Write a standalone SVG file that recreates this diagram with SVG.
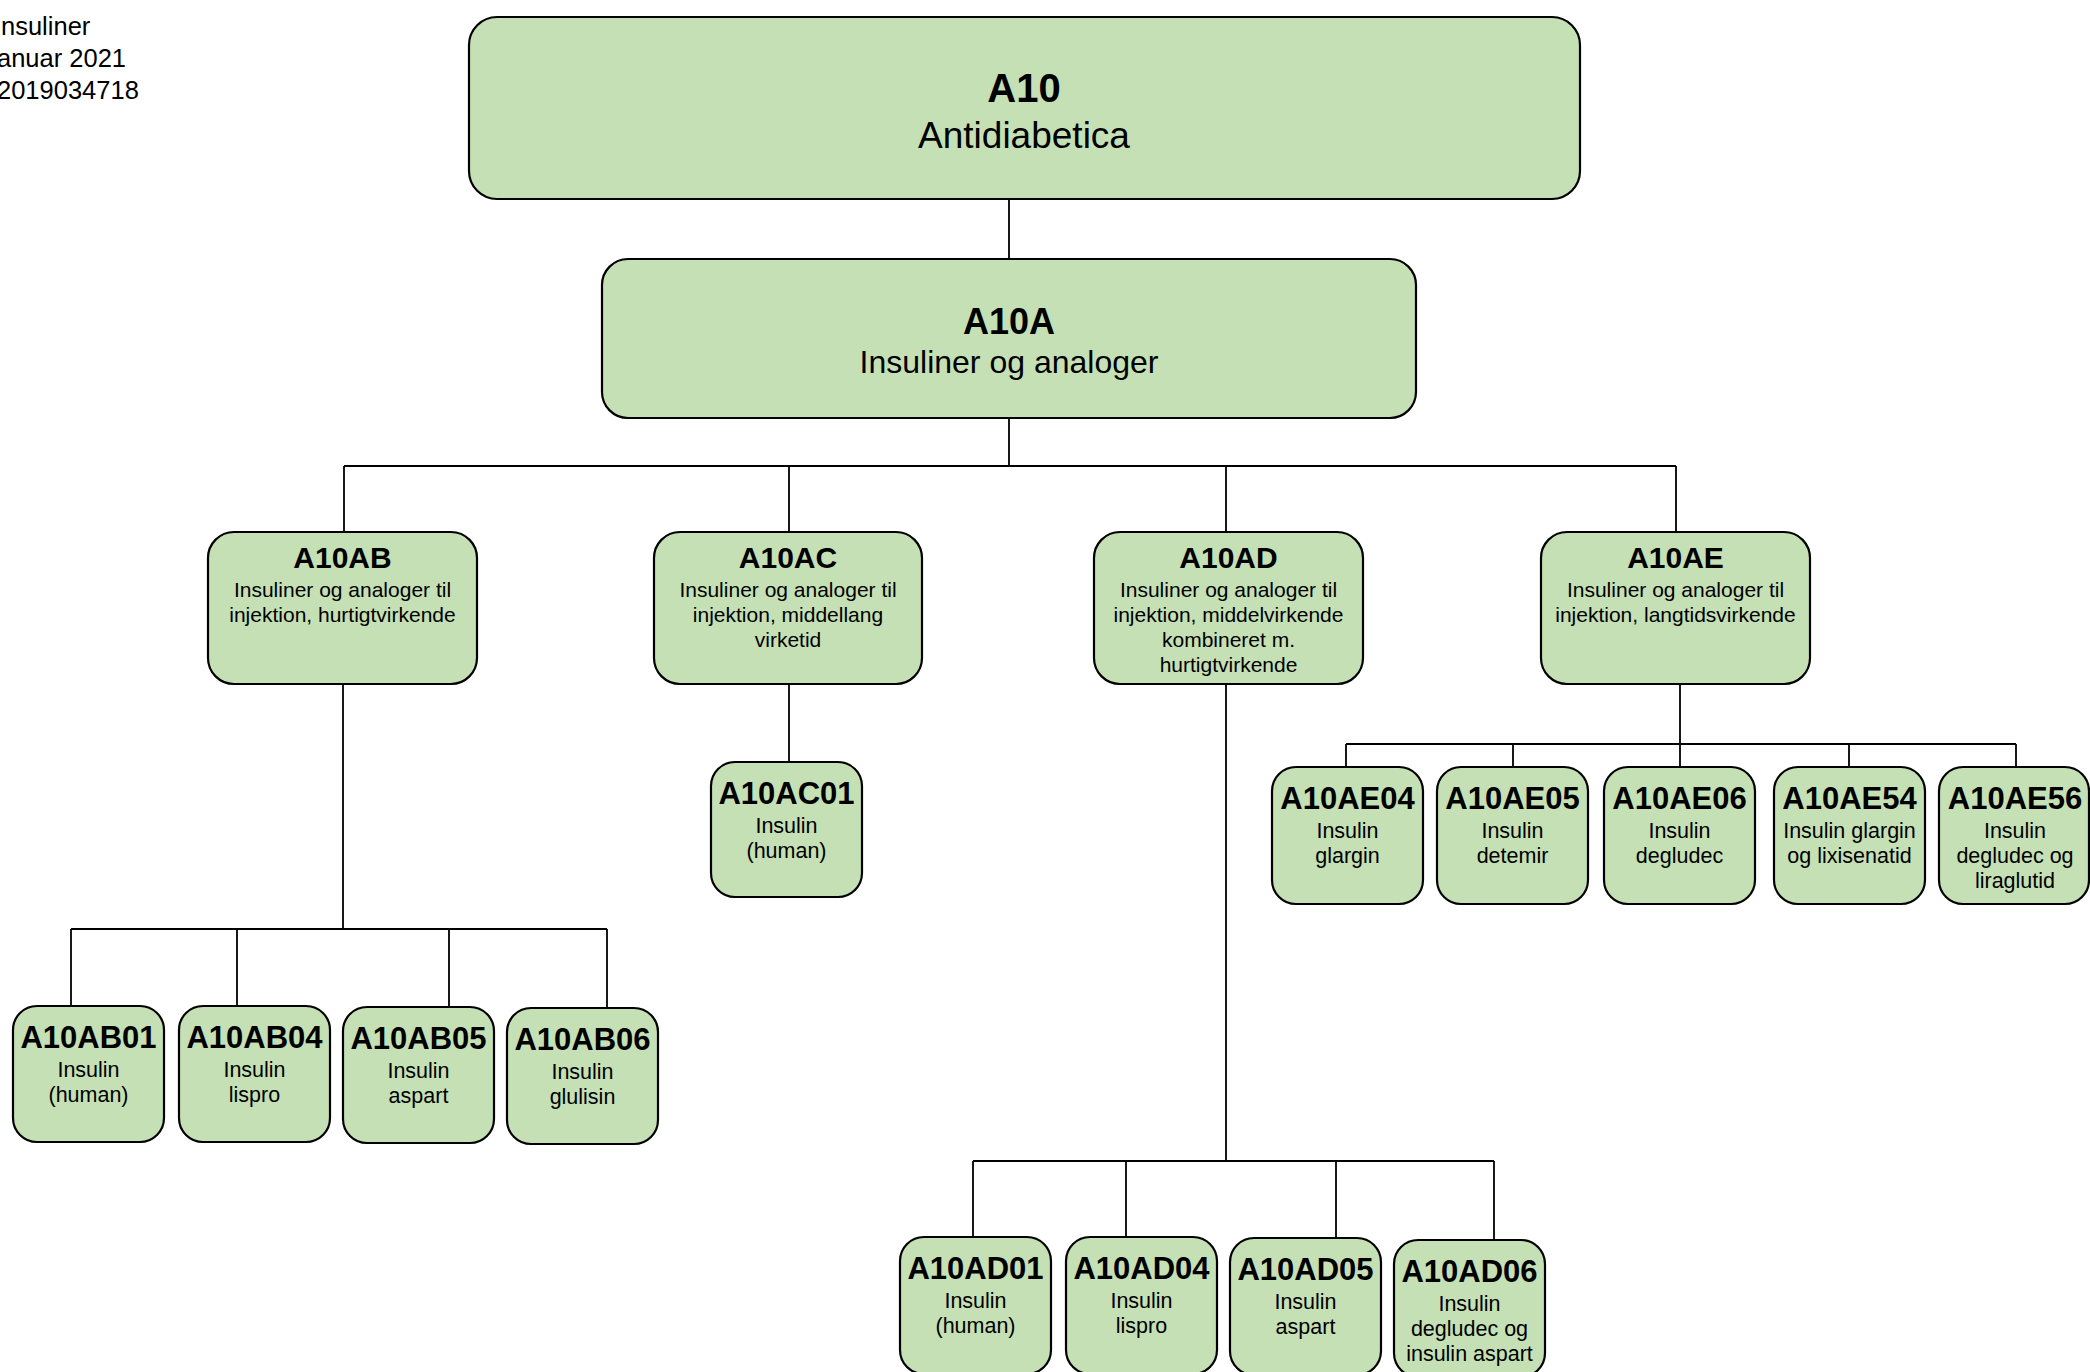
<svg xmlns="http://www.w3.org/2000/svg" width="2090" height="1372" viewBox="0 0 2090 1372">
<style>
text{font-family:"Liberation Sans",Arial,sans-serif;fill:#000;text-anchor:middle}
.box{fill:#c5e0b4;stroke:#000;stroke-width:2.2}
.con{fill:none;stroke:#000;stroke-width:1.8}
.hdr{text-anchor:start;font-size:25.5px}
.b40{font-size:40px;font-weight:bold}
.r37{font-size:37px}
.b36{font-size:36px;font-weight:bold}
.r32{font-size:32px}
.b30{font-size:30px;font-weight:bold}
.b31{font-size:31px;font-weight:bold}
.r21{font-size:21px}
.r22{font-size:21.5px}
</style>
<g id="header">
<text class="hdr" x="1" y="35">nsuliner</text>
<text class="hdr" x="-3" y="67">anuar 2021</text>
<text class="hdr" x="-3" y="99">2019034718</text>
</g>
<g id="connectors">
<path class="con" d="M1009 199V259M1009 418V466M344 466H1676M344 466V532M789 466V532M1226 466V532M1676 466V532"/>
<path class="con" d="M343 684V929M71 929H607M71 929V1006M237 929V1006M449 929V1007M607 929V1008"/>
<path class="con" d="M789 684V762"/>
<path class="con" d="M1226 684V1161M973 1161H1494M973 1161V1237M1126 1161V1237M1336 1161V1238M1494 1161V1240"/>
<path class="con" d="M1680 684V767M1346 744H2016M1346 744V767M1513 744V767M1849 744V767M2016 744V767"/>
</g>
<g id="A10">
<rect class="box" x="469" y="17" width="1111" height="182" rx="28"/>
<text class="b40" x="1024" y="102">A10</text>
<text class="r37" x="1024" y="148">Antidiabetica</text>
</g>
<g id="A10A">
<rect class="box" x="602" y="259" width="814" height="159" rx="26"/>
<text class="b36" x="1009" y="334">A10A</text>
<text class="r32" x="1009" y="373">Insuliner og analoger</text>
</g>
<g id="A10AB">
<rect class="box" x="208" y="532" width="269" height="152" rx="26"/>
<text class="b30" x="342.5" y="568">A10AB</text>
<text class="r21" x="342.5" y="597">Insuliner og analoger til</text>
<text class="r21" x="342.5" y="622">injektion, hurtigtvirkende</text>
</g>
<g id="A10AC">
<rect class="box" x="654" y="532" width="268" height="152" rx="26"/>
<text class="b30" x="788" y="568">A10AC</text>
<text class="r21" x="788" y="597">Insuliner og analoger til</text>
<text class="r21" x="788" y="622">injektion, middellang</text>
<text class="r21" x="788" y="647">virketid</text>
</g>
<g id="A10AD">
<rect class="box" x="1094" y="532" width="269" height="152" rx="26"/>
<text class="b30" x="1228.5" y="568">A10AD</text>
<text class="r21" x="1228.5" y="597">Insuliner og analoger til</text>
<text class="r21" x="1228.5" y="622">injektion, middelvirkende</text>
<text class="r21" x="1228.5" y="647">kombineret m.</text>
<text class="r21" x="1228.5" y="672">hurtigtvirkende</text>
</g>
<g id="A10AE">
<rect class="box" x="1541" y="532" width="269" height="152" rx="26"/>
<text class="b30" x="1675.5" y="568">A10AE</text>
<text class="r21" x="1675.5" y="597">Insuliner og analoger til</text>
<text class="r21" x="1675.5" y="622">injektion, langtidsvirkende</text>
</g>
<g id="A10AB01">
<rect class="box" x="13" y="1006" width="151" height="136" rx="24"/>
<text class="b31" x="88.5" y="1048">A10AB01</text>
<text class="r22" x="88.5" y="1077">Insulin</text>
<text class="r22" x="88.5" y="1102">(human)</text>
</g>
<g id="A10AB04">
<rect class="box" x="179" y="1006" width="151" height="136" rx="24"/>
<text class="b31" x="254.5" y="1048">A10AB04</text>
<text class="r22" x="254.5" y="1077">Insulin</text>
<text class="r22" x="254.5" y="1102">lispro</text>
</g>
<g id="A10AB05">
<rect class="box" x="343" y="1007" width="151" height="136" rx="24"/>
<text class="b31" x="418.5" y="1049">A10AB05</text>
<text class="r22" x="418.5" y="1078">Insulin</text>
<text class="r22" x="418.5" y="1103">aspart</text>
</g>
<g id="A10AB06">
<rect class="box" x="507" y="1008" width="151" height="136" rx="24"/>
<text class="b31" x="582.5" y="1050">A10AB06</text>
<text class="r22" x="582.5" y="1079">Insulin</text>
<text class="r22" x="582.5" y="1104">glulisin</text>
</g>
<g id="A10AC01">
<rect class="box" x="711" y="762" width="151" height="135" rx="24"/>
<text class="b31" x="786.5" y="804">A10AC01</text>
<text class="r22" x="786.5" y="833">Insulin</text>
<text class="r22" x="786.5" y="858">(human)</text>
</g>
<g id="A10AE04">
<rect class="box" x="1272" y="767" width="151" height="137" rx="24"/>
<text class="b31" x="1347.5" y="809">A10AE04</text>
<text class="r22" x="1347.5" y="838">Insulin</text>
<text class="r22" x="1347.5" y="863">glargin</text>
</g>
<g id="A10AE05">
<rect class="box" x="1437" y="767" width="151" height="137" rx="24"/>
<text class="b31" x="1512.5" y="809">A10AE05</text>
<text class="r22" x="1512.5" y="838">Insulin</text>
<text class="r22" x="1512.5" y="863">detemir</text>
</g>
<g id="A10AE06">
<rect class="box" x="1604" y="767" width="151" height="137" rx="24"/>
<text class="b31" x="1679.5" y="809">A10AE06</text>
<text class="r22" x="1679.5" y="838">Insulin</text>
<text class="r22" x="1679.5" y="863">degludec</text>
</g>
<g id="A10AE54">
<rect class="box" x="1774" y="767" width="151" height="137" rx="24"/>
<text class="b31" x="1849.5" y="809">A10AE54</text>
<text class="r22" x="1849.5" y="838">Insulin glargin</text>
<text class="r22" x="1849.5" y="863">og lixisenatid</text>
</g>
<g id="A10AE56">
<rect class="box" x="1939" y="767" width="150" height="137" rx="24"/>
<text class="b31" x="2015" y="809">A10AE56</text>
<text class="r22" x="2015" y="838">Insulin</text>
<text class="r22" x="2015" y="863">degludec og</text>
<text class="r22" x="2015" y="888">liraglutid</text>
</g>
<g id="A10AD01">
<rect class="box" x="900" y="1237" width="151" height="137" rx="24"/>
<text class="b31" x="975.5" y="1279">A10AD01</text>
<text class="r22" x="975.5" y="1308">Insulin</text>
<text class="r22" x="975.5" y="1333">(human)</text>
</g>
<g id="A10AD04">
<rect class="box" x="1066" y="1237" width="151" height="137" rx="24"/>
<text class="b31" x="1141.5" y="1279">A10AD04</text>
<text class="r22" x="1141.5" y="1308">Insulin</text>
<text class="r22" x="1141.5" y="1333">lispro</text>
</g>
<g id="A10AD05">
<rect class="box" x="1230" y="1238" width="151" height="137" rx="24"/>
<text class="b31" x="1305.5" y="1280">A10AD05</text>
<text class="r22" x="1305.5" y="1309">Insulin</text>
<text class="r22" x="1305.5" y="1334">aspart</text>
</g>
<g id="A10AD06">
<rect class="box" x="1394" y="1240" width="151" height="137" rx="24"/>
<text class="b31" x="1469.5" y="1282">A10AD06</text>
<text class="r22" x="1469.5" y="1311">Insulin</text>
<text class="r22" x="1469.5" y="1336">degludec og</text>
<text class="r22" x="1469.5" y="1361">insulin aspart</text>
</g>
</svg>
